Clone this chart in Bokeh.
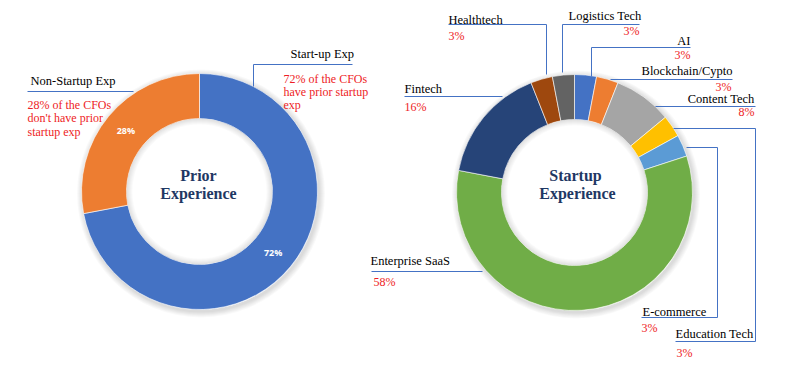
import math
from bokeh.plotting import figure
from bokeh.models import Range1d
from bokeh.core.properties import value
from bokeh.embed import file_html
from bokeh.resources import INLINE

# ---------------- data ----------------
prior_categories = ["Start-up Exp", "Non-Startup Exp"]
prior_values = [72, 28]
prior_notes = [["72% of the CFOs", "have prior startup", "exp"],
               ["28% of the CFOs", "don't have prior", "startup exp"]]

startup_categories = ["AI", "Blockchain/Cypto", "Content Tech", "E-commerce",
                      "Education Tech", "Enterprise SaaS", "Fintech",
                      "Healthtech", "Logistics Tech"]
startup_values = [3, 3, 8, 3, 3, 58, 16, 3, 3]

# ---------------- styles ----------------
prior_colors = ["#4472C4", "#ED7D31"]
startup_colors = ["#4472C4", "#ED7D31", "#A5A5A5", "#FFC000", "#5B9BD5",
                  "#70AD47", "#264478", "#9E480E", "#636363"]
LEADER = "#4472C4"
RED = "#EE1C25"
NAVY = "#1F3864"
SERIF = value("Liberation Serif")

W, H = 790, 365
p = figure(width=W, height=H, x_range=Range1d(0, W), y_range=Range1d(0, H),
           output_backend="svg", toolbar_location=None, min_border=0)
p.axis.visible = False
p.grid.visible = False
p.outline_line_color = None
p.background_fill_color = "white"
p.border_fill_color = "white"


def Y(img_y):
    return 365 - img_y


R_OUT, R_IN = 118, 73


def donut(cx, cy, vals, colors):
    total = sum(vals)
    starts, ends, mids = [], [], []
    acc = 0
    for v in vals:
        a0 = math.pi / 2 - 2 * math.pi * acc / total
        acc += v
        a1 = math.pi / 2 - 2 * math.pi * acc / total
        starts.append(a0)
        ends.append(a1)
        mids.append((a0 + a1) / 2)
    # soft outer shadow
    for k in range(1, 7):
        p.annulus(x=cx + 1.5, y=Y(cy) - 2, inner_radius=R_OUT - 2, outer_radius=R_OUT + k,
                  fill_color="black", fill_alpha=0.025, line_color=None)
    p.annular_wedge(x=cx, y=Y(cy), inner_radius=R_IN, outer_radius=R_OUT,
                    start_angle=starts, end_angle=ends, direction="clock",
                    fill_color=colors, line_color="white", line_width=0.6)
    # soft inner shadow
    for k in range(1, 7):
        p.annulus(x=cx, y=Y(cy), inner_radius=R_IN - k, outer_radius=R_IN,
                  fill_color="black", fill_alpha=0.02, line_color=None)
    return mids


def lines(paths):
    xs = [[pt[0] for pt in path] for path in paths]
    ys = [[Y(pt[1]) for pt in path] for path in paths]
    p.multi_line(xs=xs, ys=ys, line_color=LEADER, line_width=1)


def txt(x, y, s, color="black", size="12.5px", align="left", style="normal", font=SERIF):
    p.text(x=[x], y=[Y(y)], text=[s], text_font=font, text_font_size=size,
           text_color=color, text_align=align, text_baseline="middle", text_font_style=style)


# ---------------- left donut ----------------
LCX, LCY = 199, 191
mids = donut(LCX, LCY, prior_values, prior_colors)
rm = (R_IN + R_OUT) / 2
for v, a in zip(prior_values, mids):
    p.text(x=[LCX + rm * math.cos(a)], y=[Y(LCY) + rm * math.sin(a)], text=[f"{v}%"],
           text_font=value("Open Sans"), text_font_size="9px", text_font_style="bold",
           text_color="white", text_align="center", text_baseline="middle")

txt(LCX - 1, 175, "Prior", color=NAVY, size="16px", align="center", style="bold")
txt(LCX - 1, 193, "Experience", color=NAVY, size="16px", align="center", style="bold")

lines([[(253, 86), (253, 64), (352, 64)],
       [(27, 91), (133, 91)]])
txt(290, 53, prior_categories[0])
for i, s in enumerate(prior_notes[0]):
    txt(283, 78 + 13 * i, s, color=RED, size="12px")
txt(30, 80, prior_categories[1])
for i, s in enumerate(prior_notes[1]):
    txt(27, 104 + 13.5 * i, s, color=RED, size="12px")

# ---------------- right donut ----------------
RCX, RCY = 574, 192
donut(RCX, RCY, startup_values, startup_colors)
txt(RCX + 1, 175, "Startup", color=NAVY, size="16px", align="center", style="bold")
txt(RCX + 3, 193, "Experience", color=NAVY, size="16px", align="center", style="bold")

lines([
    [(546, 74), (546, 24), (448, 24)],            # Healthtech
    [(562, 72), (562, 24), (639, 24)],            # Logistics
    [(591, 76), (591, 47), (690, 47)],            # AI
    [(610, 79), (732, 79)],                       # Blockchain
    [(655, 106), (755, 106)],                     # Content
    [(673, 128), (755, 128), (755, 341), (675, 341)],   # Education line
    [(686, 147), (717, 147), (717, 317), (641, 317)],   # E-commerce line
    [(371, 271), (482, 271)],                     # Enterprise SaaS
    [(404, 96), (502, 96)],                       # Fintech
])

# label layout: label x, label y, pct x, pct y, align
label_layout = {
    "Healthtech": (448, 19, 448, 35, "left"),
    "Logistics Tech": (568, 15, 639, 30, "left_pct_right"),
    "AI": (690, 40, 690, 54, "right"),
    "Blockchain/Cypto": (732, 70, 731, 86, "right"),
    "Content Tech": (754, 98, 754, 111, "right"),
    "E-commerce": (642, 311, 641, 327, "left"),
    "Education Tech": (675, 333, 676, 352, "left"),
    "Enterprise SaaS": (370, 260, 373, 281, "left"),
    "Fintech": (404, 88, 404, 106, "left"),
}
for name, v in zip(startup_categories, startup_values):
    lx, ly, px, py, al = label_layout[name]
    if al == "left_pct_right":
        txt(lx, ly, name, align="left")
        txt(px, py, f"{v}%", color=RED, size="12px", align="right")
    else:
        txt(lx, ly, name, align=al)
        txt(px, py, f"{v}%", color=RED, size="12px", align=al)

open("out.html", "w").write(file_html(p, INLINE))
